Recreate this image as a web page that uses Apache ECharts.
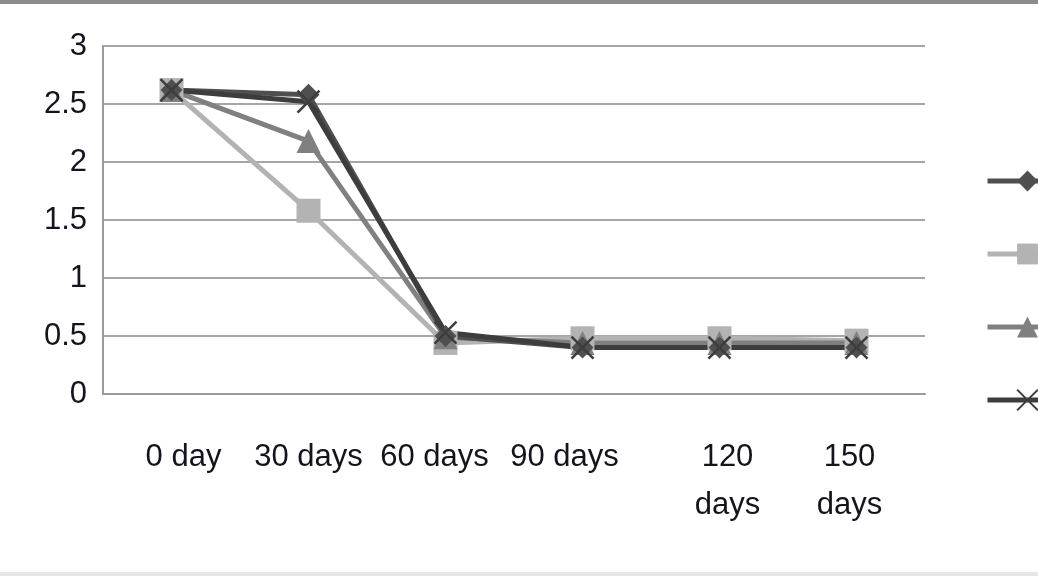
<!DOCTYPE html>
<html>
<head>
<meta charset="utf-8">
<script src="https://cdn.jsdelivr.net/npm/echarts@6/dist/echarts.min.js"></script>
<style>
html,body{margin:0;padding:0;background:#fff;overflow:hidden;}
#c{position:absolute;left:0;top:0;width:1038px;height:576px;}
#topbar{position:absolute;left:0;top:0;width:1038px;height:4px;background:#8c8c8c;z-index:2;}
#botbar{position:absolute;left:0;top:572px;width:1038px;height:4px;background:#e6e6e6;z-index:2;}
</style>
</head>
<body>
<div id="c"></div>
<div id="topbar"></div>
<div id="botbar"></div>
<script>
const categories = ['0 day', '30 days', '60 days', '90 days', '120\ndays', '150\ndays'];
const yTicks = [0, 0.5, 1, 1.5, 2, 2.5, 3];
const series1 = [2.62, 2.58, 0.50, 0.40, 0.40, 0.40];
const series2 = [2.62, 1.58, 0.44, 0.48, 0.48, 0.46];
const series3 = [2.62, 2.18, 0.49, 0.44, 0.44, 0.44];
const series4 = [2.62, 2.52, 0.53, 0.40, 0.40, 0.40];
const seriesNames = ['Series1', 'Series2', 'Series3', 'Series4'];

// horizontal nudge of each category label (px, + = right)
const labelShift = [12, 0, -11, -18, 8, -7];

const chart = echarts.init(document.getElementById('c'));
const font = 'Liberation Sans, Arial, sans-serif';
const textColor = '#14141e';
const xPath = 'path://M0,0L10,10M10,0L0,10';

function lineSeries(name, data, color, symbol, size, extra) {
  return Object.assign({
    name: name,
    type: 'line',
    data: data,
    symbol: symbol,
    symbolSize: size,
    showAllSymbol: true,
    lineStyle: { color: color, width: 5 },
    itemStyle: { color: color },
    emphasis: { disabled: true },
    animation: false
  }, extra || {});
}

const rich = {};
labelShift.forEach(function (s, i) {
  rich['l' + i] = {
    fontSize: 31, fontFamily: font, color: textColor, lineHeight: 48,
    padding: s >= 0 ? [0, 0, 0, 2 * s] : [0, -2 * s, 0, 0]
  };
});

chart.setOption({
  backgroundColor: '#fff',
  animation: false,
  grid: { left: 103, right: 113, top: 46, bottom: 182, containLabel: false },
  legend: {
    orient: 'vertical',
    left: 985,
    top: 167,
    padding: 0,
    itemWidth: 80,
    itemHeight: 26,
    itemGap: 47 - 2,
    lineStyle: { width: 5 },
    textStyle: { fontSize: 28, fontFamily: font, color: textColor },
    data: seriesNames
  },
  xAxis: {
    type: 'category',
    data: categories,
    boundaryGap: true,
    axisLine: { lineStyle: { color: '#9a9a9a', width: 2 } },
    axisTick: { show: false },
    axisLabel: {
      interval: 0,
      margin: 39,
      fontSize: 31,
      fontFamily: font,
      color: textColor,
      lineHeight: 48,
      formatter: function (v, i) {
        return v.split('\n').map(function (p) { return '{l' + i + '|' + p + '}'; }).join('\n');
      },
      rich: rich
    }
  },
  yAxis: {
    type: 'value',
    min: yTicks[0],
    max: yTicks[yTicks.length - 1],
    interval: 0.5,
    axisLine: { show: true, lineStyle: { color: '#9a9a9a', width: 2 } },
    axisTick: { show: false },
    splitLine: { lineStyle: { color: '#a6a6a6', width: 2 } },
    axisLabel: {
      margin: 16,
      fontSize: 31,
      fontFamily: font,
      color: textColor
    }
  },
  series: [
    lineSeries(seriesNames[1], series2, '#b3b3b3', 'rect', 24),
    lineSeries(seriesNames[2], series3, '#808080', 'triangle', 24),
    lineSeries(seriesNames[0], series1, '#4f4f4f', 'diamond', 22),
    lineSeries(seriesNames[3], series4, '#3d3d3d', xPath, 22, {
      itemStyle: { color: 'rgba(0,0,0,0)', borderColor: '#3d3d3d', borderWidth: 2.5 }
    })
  ]
});
</script>
</body>
</html>
